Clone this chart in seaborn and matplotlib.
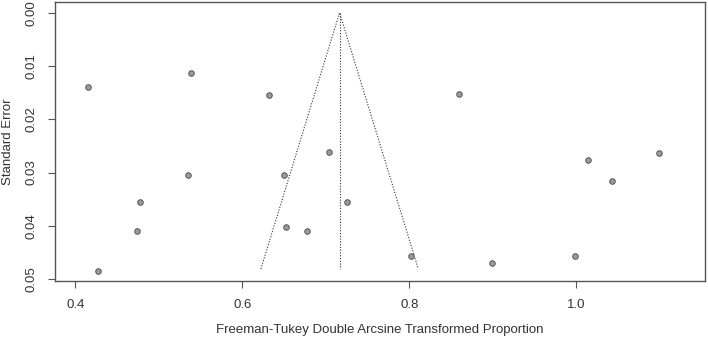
import numpy as np
import pandas as pd
import matplotlib
matplotlib.use("Agg")
import matplotlib.pyplot as plt
import seaborn as sns

# Datos (funnel plot)
proporcion = [0.4156, 0.5385, 0.6315, 0.7038, 0.5345, 0.6503, 0.4770, 0.7254,
              0.4739, 0.6523, 0.6778, 0.4267, 0.8599, 1.0140, 1.0994, 1.0435,
              0.8016, 0.8990, 0.9980]
error_std = [0.0140, 0.0113, 0.0155, 0.0262, 0.0305, 0.0305, 0.0355, 0.0355,
             0.0409, 0.0403, 0.0409, 0.0484, 0.0153, 0.0277, 0.0263, 0.0316,
             0.0457, 0.0469, 0.0457]
estimacion = 0.7166      # estimación combinada (línea vertical)
se_max = 0.0481          # fondo del embudo
z = 1.96

x_ticks = [0.4, 0.6, 0.8, 1.0]
y_ticks = [0.00, 0.01, 0.02, 0.03, 0.04, 0.05]

data = pd.DataFrame({"x": proporcion, "se": error_std})

sns.set_style("white")
plt.rcParams["font.family"] = ["Liberation Sans", "DejaVu Sans"]

fig, ax = plt.subplots(figsize=(7.08, 3.38), dpi=100)
plt.subplots_adjust(left=0.078, right=0.996, bottom=0.168, top=0.994)

# Embudo
se_lin = np.array([0.0, se_max])
embudo = pd.DataFrame({
    "x": np.concatenate([estimacion - z * se_lin[::-1], estimacion + z * se_lin]),
    "se": np.concatenate([se_lin[::-1], se_lin]),
})
sns.lineplot(data=embudo, x="x", y="se", sort=False, ax=ax, color="#333333",
             linestyle=(0, (1, 1.5)), linewidth=0.8, estimator=None)
ax.plot([estimacion, estimacion], [0, se_max], color="#333333",
        linestyle=(0, (1, 1.5)), linewidth=0.8)

# Puntos
sns.scatterplot(data=data, x="x", y="se", ax=ax, color="#9a9a9a",
                edgecolor="#555555", linewidth=0.7, s=16, zorder=3)

ax.set_xlim(0.376, 1.1545)
ax.set_ylim(0.0504, -0.002)
ax.set_xticks(x_ticks)
ax.set_xticklabels([f"{t:.1f}" for t in x_ticks])
ax.set_yticks(y_ticks)
ax.set_yticklabels([f"{t:.2f}" for t in y_ticks], rotation=90, va="center")

ax.tick_params(axis="both", colors="#555555", labelcolor="#333333", labelsize=9.5,
               length=5, width=0.8, direction="out", bottom=True, left=True, pad=8)
for s in ax.spines.values():
    s.set_color("#555555")
    s.set_linewidth(1.0)

ax.set_xlabel("Freeman-Tukey Double Arcsine Transformed Proportion", fontsize=9.5,
              color="#333333", labelpad=9)
ax.set_ylabel("Standard Error", fontsize=9.5, color="#333333", labelpad=8)

fig.savefig("out.png", dpi=100)
